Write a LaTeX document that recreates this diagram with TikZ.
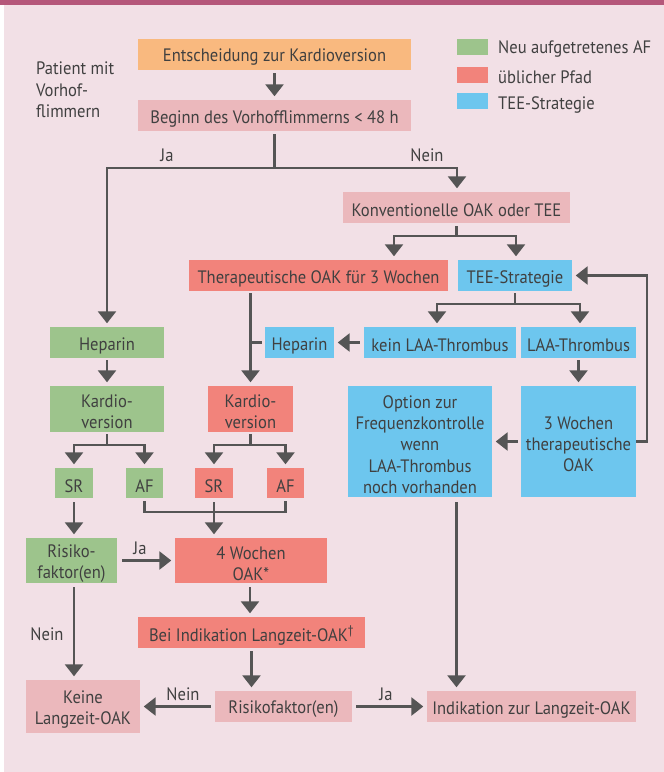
\documentclass[tikz,border=0pt]{standalone}
\usepackage{fontspec}
\setmainfont[FakeStretch=0.92]{PT Sans}
\usetikzlibrary{arrows.meta,calc}
\definecolor{barc}{RGB}{181,87,122}
\definecolor{bgc}{RGB}{242,224,230}
\definecolor{orangec}{RGB}{249,185,127}
\definecolor{pinkc}{RGB}{235,184,188}
\definecolor{greenc}{RGB}{157,196,140}
\definecolor{redc}{RGB}{242,131,123}
\definecolor{bluec}{RGB}{109,198,238}
\definecolor{txtc}{RGB}{64,64,64}
\definecolor{linec}{RGB}{85,85,85}
\tikzset{
  box/.style={rectangle, inner sep=0pt},
  btxt/.style={inner sep=0pt, text=txtc, align=center, font=\fontsize{18pt}{21.3pt}\selectfont},
  lbl/.style={inner sep=0pt, text=txtc, font=\fontsize{18pt}{21.3pt}\selectfont},
  ln/.style={draw=linec, line width=2.6pt},
  arr/.style={ln, -{Triangle[width=18pt,length=12pt]}, shorten >=3.5pt},
  swatch/.style={rectangle, inner sep=0pt, minimum width=31pt, minimum height=16pt}
}
% name, colour, x, y, width, height, text
\newcommand{\flowbox}[7]{%
  \node[box, fill=#2, minimum width=#5pt, minimum height=#6pt] (#1) at (#3,#4) {};
  \node[btxt] (#1-t) at ([yshift=-3pt]#1.center) {#7};}
\begin{document}
\begin{tikzpicture}[x=1pt,y=-1pt]
\useasboundingbox (0,0) rectangle (664,772);
\fill[bgc] (4,0) rectangle (664,772);
\fill[barc] (0,0) rectangle (664,4.5);

% legend
\node[swatch, fill=greenc] (lg) at (472.5,47) {};
\node[swatch, fill=redc] (lr) at (472.5,74.5) {};
\node[swatch, fill=bluec] (lb) at (472.5,101) {};
\node[lbl, anchor=west] (lgt) at (498,49) {Neu aufgetretenes AF};
\node[lbl, anchor=west] (lrt) at (498,77.5) {üblicher Pfad};
\node[lbl, anchor=west] (lbt) at (498,104.5) {TEE-Strategie};

\node[lbl, anchor=north west, align=left] (pat) at (36,62) {Patient mit\\Vorhof-\\flimmern};

% boxes
\flowbox{ent}{orangec}{274.5}{54.5}{273}{31}{Entscheidung zur Kardioversion}
\flowbox{beg}{pinkc}{274.5}{115.5}{273}{31}{Beginn des Vorhofflimmerns < 48 h}
\flowbox{kon}{pinkc}{456.5}{207.5}{227}{31}{Konventionelle OAK oder TEE}
\flowbox{ther}{redc}{318.5}{275.5}{259}{31}{Therapeutische OAK für 3 Wochen}
\flowbox{tee}{bluec}{515}{275.5}{114}{31}{TEE-Strategie}
\flowbox{hepg}{greenc}{107}{342.5}{114}{31}{Heparin}
\flowbox{hepb}{bluec}{299.5}{342.5}{69}{31}{Heparin}
\flowbox{kein}{bluec}{440}{342.5}{152}{31}{kein LAA-Thrombus}
\flowbox{laa}{bluec}{578.5}{342.5}{115}{31}{LAA-Thrombus}
\flowbox{kvg}{greenc}{107}{409}{114}{46}{Kardio-\\version}
\flowbox{kvr}{redc}{250.5}{409}{85}{46}{Kardio-\\version}
\flowbox{opt}{bluec}{420}{441.5}{144}{111}{Option zur\\Frequenzkontrolle\\wenn\\LAA-Thrombus\\noch vorhanden}
\flowbox{w3}{bluec}{578.5}{441.5}{115}{111}{3 Wochen\\therapeutische\\OAK}
\flowbox{srg}{greenc}{74}{483}{38}{30}{SR}
\flowbox{afg}{greenc}{144.5}{483}{37}{30}{AF}
\flowbox{srr}{redc}{214}{483}{38}{30}{SR}
\flowbox{afr}{redc}{285.5}{483}{37}{30}{AF}
\flowbox{risg}{greenc}{71.5}{560.5}{91}{45}{Risiko-\\faktor(en)}
\flowbox{w4}{redc}{251}{560.5}{152}{45}{4 Wochen\\OAK*}
\flowbox{bei}{redc}{251.5}{632.5}{227}{31}{Bei Indikation Langzeit-OAK\textsuperscript{†}}
\flowbox{risp}{pinkc}{283.5}{706.5}{137}{31}{Risikofaktor(en)}
\flowbox{keine}{pinkc}{83}{706.5}{114}{53}{Keine\\Langzeit-OAK}
\flowbox{ind}{pinkc}{531.5}{706.5}{209}{31}{Indikation zur Langzeit-OAK}

% labels
\node[lbl] (ja1) at (167,155) {Ja};
\node[lbl] (nein1) at (427,155) {Nein};
\node[lbl] (ja2) at (140,548) {Ja};
\node[lbl] (nein2) at (47,634) {Nein};
\node[lbl] (nein3) at (183,694) {Nein};
\node[lbl] (ja3) at (386,694) {Ja};

% connectors
\draw[arr, shorten <=3pt] (ent) -- (beg);
\draw[ln, shorten <=3pt] (beg.south) -- (beg.south |- 0,168) coordinate (j1);
\draw[arr, line cap=rect] (j1) -| (hepg.north);
\draw[arr, line cap=rect] (j1) -| ([xshift=0.5pt]kon.north);

\draw[ln, shorten <=3pt] (kon.south) -- (kon.south |- 0,236) coordinate (j2);
\draw[arr, line cap=rect] (j2) -| ([xshift=75.5pt]ther.north);
\draw[arr, line cap=rect] (j2) -| ([xshift=1pt]tee.north);

\draw[arr] (w3.east) -| (647,275.5) -- (tee.east);

\draw[ln, shorten <=2pt] (tee.south) -- (tee.south |- 0,304) coordinate (j3);
\draw[arr, line cap=rect] (j3) -| ([xshift=-3pt]kein.north);
\draw[arr, line cap=rect] (j3) -| ([xshift=1.5pt]laa.north);

\draw[arr, shorten <=4pt] (kein.west) -- (hepb.east);
\draw[arr, shorten <=2pt] (kvr.north |- ther.south) -- (kvr.north);
\draw[ln, shorten >=3pt] (kvr.north |- hepb.west) -- (hepb.west);

\draw[arr, shorten <=2pt] (hepg) -- (kvg);
\draw[arr, shorten <=2pt] (laa) -- (w3);
\draw[arr, shorten <=3pt] (w3.west) -- (opt.east);

\draw[ln, shorten <=2pt] (kvg.south) -- (kvg.south |- 0,445) coordinate (j4);
\draw[arr, line cap=rect] (j4) -| (srg.north);
\draw[arr, line cap=rect] (j4) -| (afg.north);
\draw[ln, shorten <=2pt] (kvr.south) -- (kvr.south |- 0,445) coordinate (j5);
\draw[arr, line cap=rect] (j5) -| (srr.north);
\draw[arr, line cap=rect] (j5) -| (afr.north);

\draw[ln, line cap=rect, shorten <=4pt] (afg.south) |- (afr.south |- 0,512) -- ([yshift=-4pt]afr.south);
\draw[arr, shorten <=4pt] (srr.south) -- (srr.south |- w4.north);
\draw[arr, shorten <=4pt] (srg.south) -- (srg.south |- risg.north);
\draw[arr, shorten <=5pt] (risg.east) -- (w4.west);
\draw[arr, shorten <=4pt] ([xshift=2.5pt]risg.south) -- ([xshift=2.5pt]risg.south |- keine.north);
\draw[arr, shorten <=4pt] ([xshift=-1pt]w4.south) -- ([xshift=-1pt]w4.south |- bei.north);
\draw[arr, shorten <=3pt] (bei.south) -- (bei.south |- risp.north);
\draw[arr, shorten <=4pt] (risp.west) -- (keine.east);
\draw[arr, shorten <=4pt] (risp.east) -- (ind.west);
\draw[arr, shorten <=5pt] ([xshift=36.5pt]opt.south) -- ([xshift=36.5pt]opt.south |- ind.north);
\end{tikzpicture}
\end{document}
